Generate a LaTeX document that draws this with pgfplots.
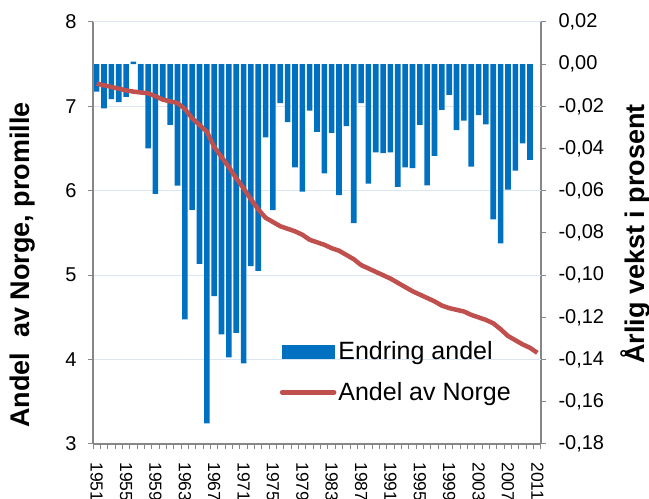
\documentclass[border=0pt]{standalone}
\usepackage{pgfplots}
\pgfplotsset{compat=1.18}
\usepackage{fontspec}
\setmainfont{Liberation Sans}

\definecolor{barblue}{HTML}{0070C0}
\definecolor{linered}{HTML}{C0504D}
\definecolor{gridc}{HTML}{DCE6F2}
\definecolor{axgray}{HTML}{868686}

\pgfplotsset{
  base/.style={
    scale only axis, width=448pt, height=422pt,
    xmin=1950.5, xmax=2011.5,
    axis line style={axgray, line width=1.2pt},
    tick style={axgray, line width=1pt},
    tick align=outside,
    major tick length=5pt,
    minor tick length=5pt,
    ticklabel style={font=\fontsize{20}{24}\selectfont},
    /pgf/number format/assume math mode=true,
    /pgf/number format/1000 sep={},
  }
}

\begin{document}
\begin{tikzpicture}
% right axis: yearly change (bars)
\begin{axis}[base, name=bars,
  axis y line*=right, axis x line*=bottom,
  ymin=-0.18, ymax=0.02,
  ytick={-0.18,-0.16,-0.14,-0.12,-0.1,-0.08,-0.06,-0.04,-0.02,0,0.02},
  yticklabel style={anchor=west, xshift=9pt, /pgf/number format/.cd, fixed, fixed zerofill, precision=2, use comma},
  extra y ticks={-0.14,-0.10,-0.06,-0.02,0.02},
  extra y tick labels={},
  extra y tick style={grid=major, major tick length=0pt, grid style={gridc, line width=1pt}},
  xtick={1951,1955,...,2011},
  major x tick style={draw=none},
  minor xtick={1950.5,1951.5,...,2011.5},
  xticklabel style={rotate=-90, anchor=west, xshift=10pt, font=\fontsize{17.5}{20}\selectfont},
  ylabel={Årlig vekst i prosent},
  ylabel style={at={(axis description cs:1.211,0.498)}, anchor=center, font=\fontsize{27}{32}\selectfont\bfseries},
]
\addplot[ybar, bar width=5.6pt, fill=barblue, draw=none] coordinates {
  (1951,-0.0130) (1952,-0.0209) (1953,-0.0165) (1954,-0.0180) (1955,-0.0155)
  (1956,0.0012) (1957,-0.0130) (1958,-0.0399) (1959,-0.0615) (1960,-0.0165)
  (1961,-0.0288) (1962,-0.0576) (1963,-0.1209) (1964,-0.0691) (1965,-0.0946)
  (1966,-0.1702) (1967,-0.1099) (1968,-0.1280) (1969,-0.1389) (1970,-0.1273)
  (1971,-0.1418) (1972,-0.0957) (1973,-0.0979) (1974,-0.0347) (1975,-0.0692)
  (1976,-0.0185) (1977,-0.0274) (1978,-0.0489) (1979,-0.0604) (1980,-0.0220)
  (1981,-0.0321) (1982,-0.0517) (1983,-0.0326) (1984,-0.0620) (1985,-0.0294)
  (1986,-0.0753) (1987,-0.0185) (1988,-0.0566) (1989,-0.0418) (1990,-0.0422)
  (1991,-0.0418) (1992,-0.0581) (1993,-0.0489) (1994,-0.0493) (1995,-0.0288)
  (1996,-0.0574) (1997,-0.0434) (1998,-0.0216) (1999,-0.0145) (2000,-0.0312)
  (2001,-0.0268) (2002,-0.0486) (2003,-0.0241) (2004,-0.0285) (2005,-0.0735)
  (2006,-0.0849) (2007,-0.0595) (2008,-0.0505) (2009,-0.0375) (2010,-0.0454)
};
\end{axis}
% left axis: share of Norway (line)
\begin{axis}[base,
  axis y line*=left, axis x line=none,
  ymin=3, ymax=8, ytick={3,4,5,6,7,8},
  yticklabel style={xshift=-8pt},
  ylabel={Andel~~av Norge, promille},
  ylabel style={at={(axis description cs:-0.158,0.424)}, anchor=center, font=\fontsize{27}{32}\selectfont\bfseries},
  legend style={at={(0.41,0.252)}, anchor=north west, draw=none, fill=none,
    font=\fontsize{25}{30}\selectfont, row sep=17pt},
  legend cell align=left,
]
\addlegendimage{legend image code/.code={\fill[barblue] (0pt,-6.5pt) rectangle (52pt,6.5pt);}}
\addlegendentry{Endring andel}
\addplot[linered, line width=4.5pt, line join=round,
  legend image code/.code={\draw[linered, line width=4.5pt, line cap=round] (0pt,0pt) -- (52pt,0pt);}]
  coordinates {
  (1951,7.27) (1952,7.25) (1953,7.23) (1954,7.21) (1955,7.19)
  (1956,7.175) (1957,7.165) (1958,7.155) (1959,7.12) (1960,7.08)
  (1961,7.06) (1962,7.04) (1963,6.97) (1964,6.86) (1965,6.78)
  (1966,6.70) (1967,6.52) (1968,6.40) (1969,6.28) (1970,6.15)
  (1971,6.03) (1972,5.90) (1973,5.78) (1974,5.68) (1975,5.63)
  (1976,5.58) (1977,5.55) (1978,5.52) (1979,5.48) (1980,5.42)
  (1981,5.39) (1982,5.36) (1983,5.32) (1984,5.29) (1985,5.24)
  (1986,5.19) (1987,5.12) (1988,5.08) (1989,5.04) (1990,5.00)
  (1991,4.96) (1992,4.91) (1993,4.86) (1994,4.81) (1995,4.77)
  (1996,4.73) (1997,4.69) (1998,4.64) (1999,4.61) (2000,4.59)
  (2001,4.57) (2002,4.53) (2003,4.50) (2004,4.47) (2005,4.43)
  (2006,4.36) (2007,4.28) (2008,4.23) (2009,4.18) (2010,4.14)
  (2011,4.08)
};
\addlegendentry{Andel av Norge}
\end{axis}
\pgfresetboundingbox
\path[use as bounding box] ([xshift=-93pt,yshift=-55pt]bars.south west) rectangle ([xshift=108pt,yshift=22pt]bars.north east);
\end{tikzpicture}
\end{document}
